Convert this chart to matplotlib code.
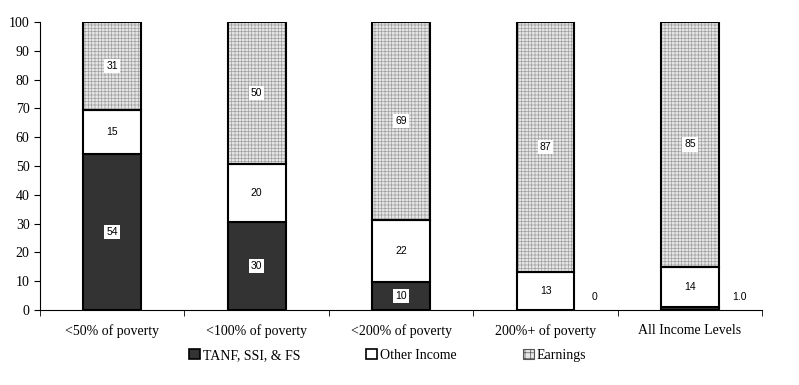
import matplotlib.pyplot as plt
import numpy as np
from matplotlib.patches import Patch

categories = ['<50% of poverty', '<100% of poverty', '<200% of poverty',
              '200%+ of poverty', 'All Income Levels']
tanf = [54.3, 30.5, 9.7, 0.0, 0.9]
other = [15.2, 20.2, 21.5, 13.1, 14.0]
earnings = [30.5, 49.3, 68.8, 86.9, 85.1]
tanf_lbl = ['54', '30', '10', '0', '1.0']
other_lbl = ['15', '20', '22', '13', '14']
earn_lbl = ['31', '50', '69', '87', '85']

serif = ['Liberation Serif', 'DejaVu Serif']
sans = ['Liberation Sans', 'DejaVu Sans']

fig = plt.figure(figsize=(7.99, 3.85), dpi=100)
ax = fig.add_axes([0.05, 0.195, 0.904, 0.748])

x = np.arange(len(categories))
w = 0.4
tanf = np.array(tanf)
other = np.array(other)
earnings = np.array(earnings)

ax.bar(x, tanf, w, color='#333333', edgecolor='black', linewidth=1.5)
ax.bar(x, other, w, bottom=tanf, color='white', edgecolor='black', linewidth=1.5)
plt.rcParams['hatch.linewidth'] = 0.5
ax.bar(x, earnings, w, bottom=tanf + other, color='#e6e6e6',
       edgecolor='#a0a0a0', hatch='+++++', linewidth=0)
ax.bar(x, earnings, w, bottom=tanf + other, fill=False,
       edgecolor='black', linewidth=1.5)

box = dict(facecolor='white', edgecolor='none', pad=1.5)
fs = 7.5
for i in range(len(categories)):
    if tanf[i] > 3:
        ax.text(x[i], tanf[i] / 2, tanf_lbl[i], ha='center', va='center',
                fontsize=fs, family=sans, bbox=box)
    else:
        ax.text(x[i] + 0.34, 4.5, tanf_lbl[i], ha='center', va='center',
                fontsize=fs, family=sans)
    ax.text(x[i], tanf[i] + other[i] / 2, other_lbl[i], ha='center', va='center',
            fontsize=fs, family=sans, bbox=box)
    ax.text(x[i], tanf[i] + other[i] + earnings[i] / 2, earn_lbl[i], ha='center',
            va='center', fontsize=fs, family=sans, bbox=box)

ax.set_xlim(-0.5, len(categories) - 0.5)
ax.set_ylim(0, 100)
ax.set_yticks(range(0, 101, 10))
ax.set_xticks(x)
ax.set_xticklabels(categories, family=serif, fontsize=10)
ax.set_xticks(np.arange(-0.5, len(categories)), minor=True)
ax.tick_params(axis='x', which='major', length=0, pad=10)
ax.tick_params(axis='x', which='minor', length=4, direction='out')
ax.tick_params(axis='y', length=4, direction='out', labelsize=10)
for t in ax.get_yticklabels():
    t.set_family(serif)
ax.spines['top'].set_visible(False)
ax.spines['right'].set_visible(False)

handles = [Patch(facecolor='#333333', edgecolor='black', linewidth=1.2),
           Patch(facecolor='white', edgecolor='black', linewidth=1.2),
           Patch(facecolor='#e6e6e6', edgecolor='#555555', hatch='+++', linewidth=0.8)]
fig.legend(handles, ['TANF, SSI, & FS', 'Other Income', 'Earnings'],
           loc='center', bbox_to_anchor=(0.485, 0.077), ncol=3, frameon=False,
           prop={'family': serif, 'size': 10}, handlelength=0.8,
           handleheight=0.8, handletextpad=0.2, columnspacing=4.75)

fig.savefig('out.png', dpi=100)
